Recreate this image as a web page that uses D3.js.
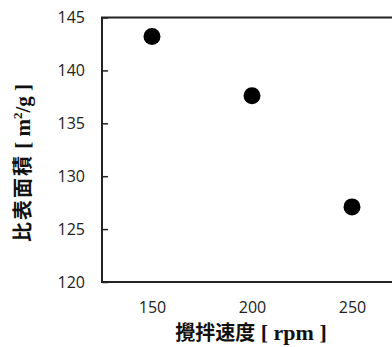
<!DOCTYPE html>
<html>
<head>
<meta charset="utf-8">
<script src="https://cdn.jsdelivr.net/npm/d3@7"></script>
<style>
    body { margin: 0; background: #fff; }
    svg { display: block; }
</style>
</head>
<body>
<script>
"use strict";
// stirring speed vs specific surface area
const speeds = [150, 200, 250]
const areas = [143.2, 137.6, 127.1]
const xTicks = [150, 200, 250]
const yTicks = [120, 125, 130, 135, 140, 145]

;(function(){
    const measurements = {
        width: 392,
        height: 347,
        left: 102,
        top: 17.5,
        bottom: 282
    }

    let svgContainer = d3.select('body').append('svg')
        .attr('width', measurements.width)
        .attr('height', measurements.height)

    // the frame runs off the right side of the picture
    let scaleX = d3.scaleLinear()
        .domain([125, 275])
        .range([measurements.left, measurements.left + 300])
    let scaleY = d3.scaleLinear()
        .domain([120, 145])
        .range([measurements.bottom, measurements.top])

    const labelFont = "'Open Sans', 'Liberation Sans', sans-serif"

    // y axis, ticks pointing inward
    let yAxis = d3.axisLeft(scaleY)
        .tickValues(yTicks)
        .tickSizeInner(-6)
        .tickSizeOuter(0)
        .tickPadding(17)
    let gy = svgContainer.append('g')
        .attr('transform', `translate(${measurements.left},0)`)
        .call(yAxis)
    gy.select('.domain').remove()
    gy.selectAll('line').attr('stroke', '#222').attr('stroke-width', 1.5)
    gy.selectAll('text')
        .attr('font-family', labelFont)
        .attr('font-size', '16px')
        .attr('fill', '#222')

    // x axis, labels only
    let xAxis = d3.axisBottom(scaleX)
        .tickValues(xTicks)
        .tickSize(0)
        .tickPadding(20)
    let gx = svgContainer.append('g')
        .attr('transform', `translate(0,${measurements.bottom})`)
        .call(xAxis)
    gx.select('.domain').remove()
    gx.selectAll('text')
        .attr('font-family', labelFont)
        .attr('font-size', '16px')
        .attr('fill', '#222')

    // plot frame
    svgContainer.append('rect')
        .attr('x', scaleX(125))
        .attr('y', scaleY(145))
        .attr('width', scaleX(275) - scaleX(125))
        .attr('height', scaleY(120) - scaleY(145))
        .attr('fill', 'none')
        .attr('stroke', '#222')
        .attr('stroke-width', 2)

    // points
    svgContainer.selectAll('.dot')
        .data(speeds)
        .enter()
        .append('circle')
            .attr('class', 'dot')
            .attr('cx', (d) => scaleX(d))
            .attr('cy', (d, i) => scaleY(areas[i]))
            .attr('r', 8.5)
            .attr('fill', '#000')

    const cjk = "'Noto Sans CJK JP', sans-serif"
    const serif = "'Liberation Serif', 'DejaVu Serif', serif"

    // x title
    let xt = svgContainer.append('text')
        .attr('x', 251)
        .attr('y', 340)
        .attr('text-anchor', 'middle')
        .attr('font-size', '20px')
        .attr('font-weight', 'bold')
        .attr('fill', '#111')
    xt.append('tspan').attr('font-family', cjk).text('攪拌速度')
    xt.append('tspan').attr('font-family', serif).attr('font-size', '22px').text('  [ rpm ]')

    // y title
    let yt = svgContainer.append('text')
        .attr('transform', 'translate(30,163) rotate(-90)')
        .attr('text-anchor', 'middle')
        .attr('font-size', '20px')
        .attr('font-weight', 'bold')
        .attr('fill', '#111')
    yt.append('tspan').attr('font-family', cjk).attr('letter-spacing', '2px').text('比表面積')
    yt.append('tspan').attr('font-family', serif).attr('font-size', '21px').text(' [ m')
    yt.append('tspan').attr('font-family', serif).attr('font-size', '13px').attr('dy', -8).text('2')
    yt.append('tspan').attr('font-family', serif).attr('font-size', '21px').attr('dy', 8).text('/g ]')
})()
</script>
</body>
</html>
